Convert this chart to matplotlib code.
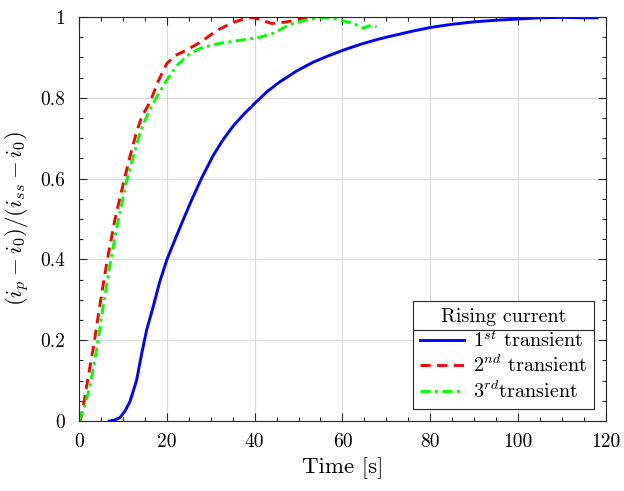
import numpy as np
import matplotlib
matplotlib.use("Agg")
import matplotlib.pyplot as plt
from matplotlib.ticker import MultipleLocator
from matplotlib.lines import Line2D

plt.rcParams['font.family'] = 'serif'
plt.rcParams['font.serif'] = ['cmr10']
plt.rcParams['mathtext.fontset'] = 'cm'
plt.rcParams['axes.formatter.use_mathtext'] = True

# 1st transient
t1 = [6.9, 8, 9.3, 10.5, 11.6, 13.1, 14.3, 15.4, 16.9, 18.4, 20, 22.2, 24,
      25.65, 28, 30.6, 32.8, 35.1, 37.6, 40.1, 42.8, 45.8, 49.5, 53.3, 56.8,
      60.2, 64.3, 68.5, 72, 76, 80, 85, 90, 95, 100, 105, 110, 115, 118]
y1 = [0.0, 0.002, 0.008, 0.025, 0.048, 0.10, 0.168, 0.225, 0.283, 0.345,
      0.399, 0.458, 0.505, 0.547, 0.603, 0.658, 0.696, 0.73, 0.76, 0.787,
      0.815, 0.84, 0.866, 0.888, 0.904, 0.918, 0.933, 0.946, 0.955, 0.965,
      0.974, 0.982, 0.988, 0.992, 0.995, 0.998, 0.999, 0.998, 0.998]

# 2nd transient
t2 = [0, 0.4, 1.2, 2.1, 3.3, 4.8, 6.3, 8.2, 10.1, 11.6, 13.1, 14.3, 16.2, 18,
      20, 22, 24.5, 28, 31.3, 33.5, 35.5, 37.5, 39.7, 41.5, 43.9, 46, 48.4, 50,
      51.9]
y2 = [0.0, 0.005, 0.05, 0.11, 0.184, 0.29, 0.39, 0.50, 0.588, 0.654, 0.715,
      0.753, 0.79, 0.84, 0.885, 0.905, 0.918, 0.94, 0.966, 0.978, 0.988, 0.995,
      0.999, 0.992, 0.984, 0.986, 0.99, 0.994, 0.998]

# 3rd transient
t3 = [0, 1.2, 2.5, 4, 5.5, 7.1, 9, 10.9, 12.5, 13.9, 15.4, 17.3, 20, 22.5, 25.3,
      28, 32.1, 36.5, 41.2, 44.3, 48.1, 51.9, 54, 56.4, 58.5, 60.2, 62.5, 64.8,
      65.9, 67.8]
y3 = [0.0, 0.035, 0.085, 0.176, 0.283, 0.39, 0.50, 0.597, 0.66, 0.713, 0.753,
      0.795, 0.844, 0.882, 0.91, 0.924, 0.935, 0.942, 0.95, 0.96, 0.982, 0.993,
      0.997, 0.999, 0.995, 0.99, 0.984, 0.972, 0.978, 0.976]

labels = [r'$1^{st}$ transient', r'$2^{nd}$ transient', r'$3^{rd}$transient']
xticks = [0, 20, 40, 60, 80, 100, 120]
yticks = [0, 0.2, 0.4, 0.6, 0.8, 1]
ytick_labels = ['0', '0.2', '0.4', '0.6', '0.8', '1']

fig = plt.figure(figsize=(6.24, 4.91), dpi=100)
ax = fig.add_axes([0.1266, 0.1426, 0.8444, 0.8228])

ax.plot(t1, y1, color=(0, 0, 1), lw=2.1, ls='-', label=labels[0])
ax.plot(t2, y2, color=(1, 0, 0), lw=2.1, ls=(0, (3.5, 2.2)), label=labels[1])
ax.plot(t3, y3, color=(0, 1, 0), lw=2.1, ls=(0, (3.5, 1.5, 1, 1.5)), label=labels[2])

ax.set_xlim(0, 120)
ax.set_ylim(0, 1)
ax.set_xticks(xticks)
ax.set_xticklabels([str(v) for v in xticks])
ax.set_yticks(yticks)
ax.set_yticklabels(ytick_labels)
ax.xaxis.set_minor_locator(MultipleLocator(5))
ax.yaxis.set_minor_locator(MultipleLocator(0.05))
ax.tick_params(which='both', direction='in', top=True, right=True,
               labelsize=14, color='#262626', width=0.8)
ax.tick_params(which='major', length=6)
ax.tick_params(which='minor', length=3)
ax.tick_params(axis='x', which='major', pad=9)
ax.tick_params(axis='y', which='major', pad=10)
ax.grid(True, which='major', color='#d9d9d9', lw=0.8)
ax.set_axisbelow(True)
for s in ax.spines.values():
    s.set_color('#262626')
    s.set_linewidth(0.8)

ax.set_xlabel('Time [s]', fontsize=16.5, labelpad=4)
ax.set_ylabel(r'$(i_p - i_0)/(i_{ss} - i_0)$', fontsize=16.5, labelpad=6)

leg = ax.legend(loc='lower right', title='Rising current', fontsize=14.5,
                title_fontsize=14.5, fancybox=False, framealpha=1,
                edgecolor='#262626', handlelength=2.15, handletextpad=0.45,
                borderaxespad=0.6, borderpad=0.35, labelspacing=0.2)
leg.get_frame().set_linewidth(0.8)

# separator line under legend title
fig.canvas.draw()
fb = leg.get_frame().get_window_extent()
tb = leg.get_title().get_window_extent()
ysep = tb.y0 - 4
inv = fig.transFigure.inverted()
(x0, y0), (x1, _) = inv.transform([(fb.x0, ysep), (fb.x1, ysep)])
fig.add_artist(Line2D([x0, x1], [y0, y0], color='#262626', lw=0.8))

fig.savefig('out.png', dpi=100)
